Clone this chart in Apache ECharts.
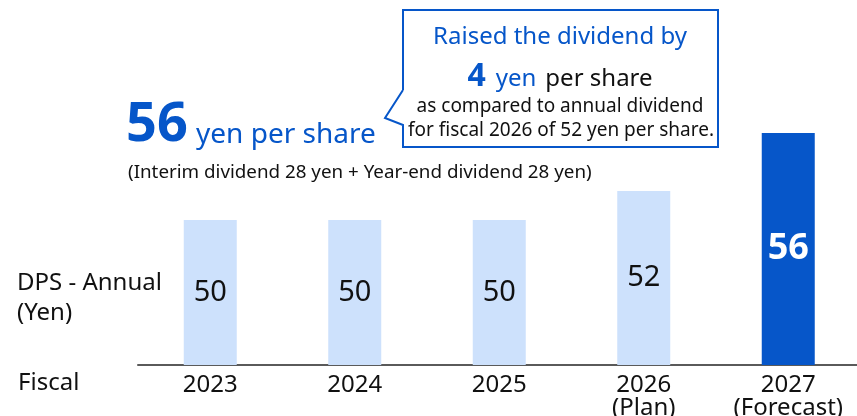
<!DOCTYPE html>
<html>
<head>
	<meta charset="utf-8" />
	<title>DPS</title>
	<script type="text/javascript" src="https://cdn.jsdelivr.net/npm/echarts@6/dist/echarts.min.js"></script>
	<style>
		html, body { margin: 0; padding: 0; background: #fff; }
		#main { width: 857px; height: 416px; }
	</style>
</head>
<body>
	<div id="main"></div>
	<script type="text/javascript">
		// data
		var years = ['2023', '2024', '2025', '2026\n(Plan)', '2027\n(Forecast)'];
		var dps = [50, 50, 50, 52, 56];
		var highlight = [false, false, false, false, true];

		var font = 'Noto Sans';
		var blue = '#0656c9';
		var lightBlue = '#cde1fc';

		var chart = echarts.init(document.getElementById('main'), null, { renderer: 'canvas' });

		var barData = dps.map(function (v, i) {
			if (!highlight[i]) return v;
			return {
				value: v,
				itemStyle: { color: blue },
				label: { color: '#fff', fontWeight: 'bold', fontSize: 36 }
			};
		});

		var option = {
			animation: false,
			grid: { left: 138, width: 722.5, top: 75, height: 290, outerBoundsMode: 'none', containLabel: false },
			xAxis: {
				type: 'category',
				data: years,
				axisLine: { lineStyle: { color: '#5a5a5a', width: 2 } },
				axisTick: { show: false },
				axisLabel: {
					color: '#111', fontFamily: font, fontSize: 24, lineHeight: 23, margin: 9, interval: 0
				}
			},
			yAxis: {
				type: 'value',
				min: 40,
				max: 60,
				show: false,
				splitLine: { show: false }
			},
			series: [{
				type: 'bar',
				data: barData,
				barWidth: 53,
				itemStyle: { color: lightBlue },
				label: {
					show: true,
					position: 'inside',
					color: '#111',
					fontFamily: font,
					fontSize: 29
				}
			}],
			graphic: [
				{ type: 'text', left: 17, top: 268, style: { text: 'DPS - Annual\n(Yen)', font: '24px "Noto Sans"', fill: '#111', lineHeight: 30 } },
				{ type: 'text', left: 18, top: 371, style: { text: 'Fiscal', font: '24px "Noto Sans"', fill: '#111' } },
				{ type: 'text', left: 126, top: 99, style: { text: '56', font: 'bold 54px "Noto Sans"', fill: blue } },
				{ type: 'text', left: 196, top: 121, style: { text: 'yen per share', font: '28px "Noto Sans"', fill: blue } },
				{ type: 'text', left: 128, top: 163, style: { text: '(Interim dividend 28 yen + Year-end dividend 28 yen)', font: '18.8px "Noto Sans"', fill: '#111' } },
				{
					type: 'polyline',
					shape: { points: [[403, 90], [403, 10], [718, 10], [718, 147], [403, 147], [403, 125], [385, 118], [403, 90]] },
					style: { stroke: blue, lineWidth: 2, fill: '#fff', lineJoin: 'miter' }
				},
				{ type: 'text', x: 560, y: 37, style: { text: 'Raised the dividend by', font: '24px "Noto Sans"', fill: blue, align: 'center', verticalAlign: 'middle' } },
				{
					type: 'text', x: 560, y: 77,
					style: {
						text: '{n|4}{b|yen}{k|per share}', align: 'center', verticalAlign: 'middle',
						rich: {
							n: { fontFamily: font, fontWeight: 'bold', fontSize: 32, fill: blue, verticalAlign: 'bottom' },
							b: { fontFamily: font, fontSize: 24, fill: blue, verticalAlign: 'bottom', padding: [0, 9, 2, 10] },
							k: { fontFamily: font, fontSize: 24, fill: '#111', verticalAlign: 'bottom', padding: [0, 0, 2, 0] }
						}
					}
				},
				{ type: 'text', x: 560, y: 107, style: { text: 'as compared to annual dividend', font: '19px "Noto Sans"', fill: '#111', align: 'center', verticalAlign: 'middle' } },
				{ type: 'text', x: 561, y: 131, style: { text: 'for fiscal 2026 of 52 yen per share.', font: '19px "Noto Sans"', fill: '#111', align: 'center', verticalAlign: 'middle' } }
			]
		};
		chart.setOption(option);
	</script>
</body>
</html>
